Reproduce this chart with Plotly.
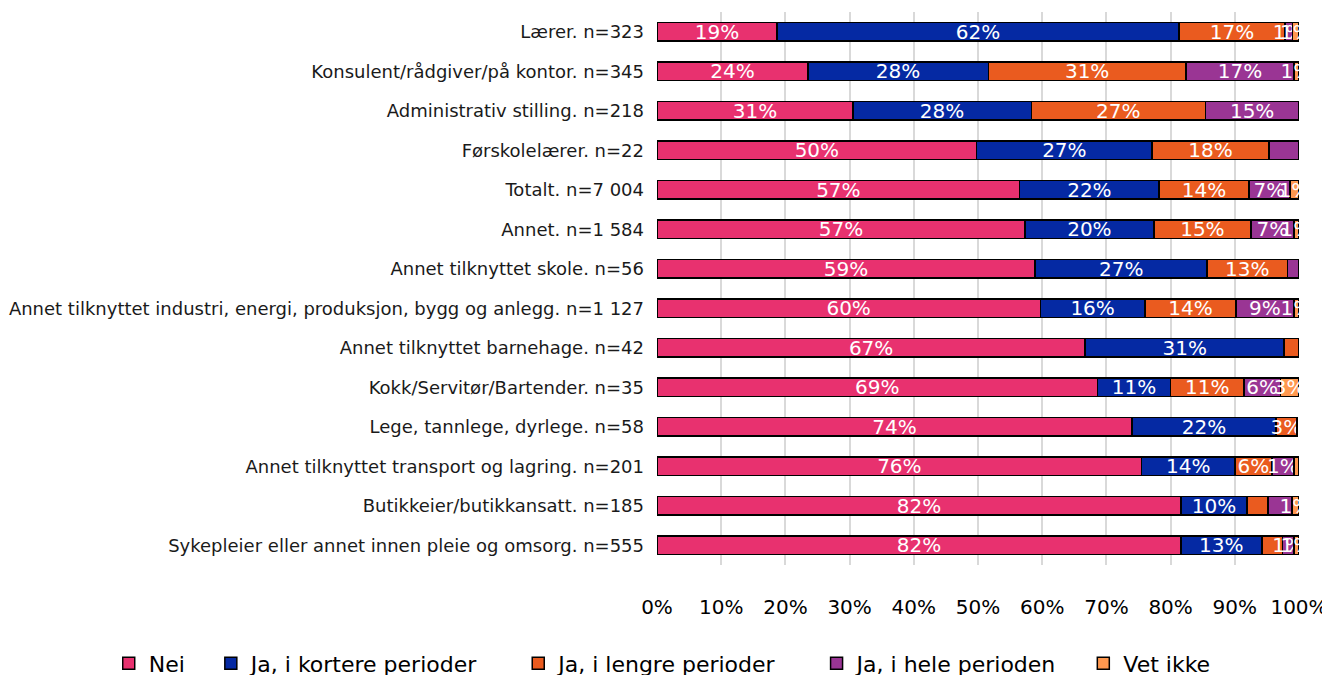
import plotly.graph_objects as go

categories = [
    "Lærer. n=323",
    "Konsulent/rådgiver/på kontor. n=345",
    "Administrativ stilling. n=218",
    "Førskolelærer. n=22",
    "Totalt. n=7 004",
    "Annet. n=1 584",
    "Annet tilknyttet skole. n=56",
    "Annet tilknyttet industri, energi, produksjon, bygg og anlegg. n=1 127",
    "Annet tilknyttet barnehage. n=42",
    "Kokk/Servitør/Bartender. n=35",
    "Lege, tannlege, dyrlege. n=58",
    "Annet tilknyttet transport og lagring. n=201",
    "Butikkeier/butikkansatt. n=185",
    "Sykepleier eller annet innen pleie og omsorg. n=555",
]

nei = [18.7, 23.5, 30.5, 49.8, 56.5, 57.3, 58.9, 59.7, 66.7, 68.6, 74.0, 75.5, 81.6, 81.6]
kortere = [62.6, 28.1, 27.8, 27.3, 21.7, 20.1, 26.8, 16.3, 31.0, 11.4, 22.4, 14.5, 10.3, 12.6]
lengre = [16.5, 30.8, 27.1, 18.2, 14.0, 15.1, 12.5, 14.2, 2.3, 11.4, 3.3, 5.8, 3.3, 3.2]
hele = [1.2, 16.8, 14.6, 4.7, 6.4, 6.7, 1.8, 9.0, 0.0, 5.7, 0.0, 3.4, 3.7, 1.8]
vet_ikke = [1.0, 0.8, 0.0, 0.0, 1.4, 0.8, 0.0, 0.8, 0.0, 2.9, 0.0, 0.8, 1.1, 0.8]

# labels as printed in the source chart ("" = no label shown)
nei_lbl = ["19%", "24%", "31%", "50%", "57%", "57%", "59%", "60%", "67%", "69%", "74%", "76%", "82%", "82%"]
kortere_lbl = ["62%", "28%", "28%", "27%", "22%", "20%", "27%", "16%", "31%", "11%", "22%", "14%", "10%", "13%"]
lengre_lbl = ["17%", "31%", "27%", "18%", "14%", "15%", "13%", "14%", "", "11%", "3%", "6%", "", ""]
hele_lbl = ["1%", "17%", "15%", "", "7%", "7%", "", "9%", "", "6%", "", "1%", "", "1%"]
vet_ikke_lbl = ["1%", "1%", "", "", "1%", "1%", "", "1%", "", "3%", "", "", "1%", "1%"]

series = [
    ("Nei", nei, nei_lbl, "#E8316F"),
    ("Ja, i kortere perioder", kortere, kortere_lbl, "#0529A3"),
    ("Ja, i lengre perioder", lengre, lengre_lbl, "#EA5B1F"),
    ("Ja, i hele perioden", hele, hele_lbl, "#9A3594"),
    ("Vet ikke", vet_ikke, vet_ikke_lbl, "#FF984F"),
]

FONT = "DejaVu Sans, sans-serif"
# trailing no-break spaces widen the gaps between legend entries
legend_pad = {"Nei": 3, "Ja, i kortere perioder": 5, "Ja, i lengre perioder": 5,
              "Ja, i hele perioden": 3, "Vet ikke": 0}

fig = go.Figure()
for name, vals, lbls, color in series:
    fig.add_trace(go.Bar(
        y=categories,
        x=vals,
        name=name + "\u00a0" * legend_pad[name],
        orientation="h",
        marker=dict(color=color, line=dict(color="#000000", width=1.5)),
        text=lbls,
        textposition="inside",
        insidetextanchor="middle",
        constraintext="none",
        textangle=0,
        textfont=dict(size=20, color="white", family=FONT),
        hovertemplate="%{y}<br>" + name + ": %{x:.0f}%<extra></extra>",
    ))

# page body adds an 8px offset, so the figure is 8px smaller than the window
fig.update_layout(
    barmode="stack",
    bargap=0.54,
    width=1322,
    height=667,
    paper_bgcolor="white",
    plot_bgcolor="white",
    font=dict(family=FONT, color="#000000"),
    margin=dict(l=649, r=31, t=4, b=110, autoexpand=False),
    xaxis=dict(
        range=[0, 100],
        tickvals=[0, 10, 20, 30, 40, 50, 60, 70, 80, 90, 100],
        ticktext=["0%", "10%", "20%", "30%", "40%", "50%", "60%", "70%", "80%", "90%", "100%"],
        showgrid=True,
        gridcolor="#D9D9D9",
        gridwidth=2,
        zeroline=False,
        showline=False,
        ticks="",
        ticklabelstandoff=28,
        tickfont=dict(size=20, color="#000000", family=FONT),
    ),
    yaxis=dict(
        autorange="reversed",
        showgrid=False,
        ticks="",
        ticklabelstandoff=12,
        tickfont=dict(size=18, color="#1a1a1a", family=FONT),
    ),
    legend=dict(
        orientation="h",
        x=-0.854,
        xanchor="left",
        y=-0.14,
        yanchor="top",
        font=dict(size=22, color="#000000", family=FONT),
        traceorder="normal",
        itemwidth=30,
    ),
)

fig.write_html("out.html")
